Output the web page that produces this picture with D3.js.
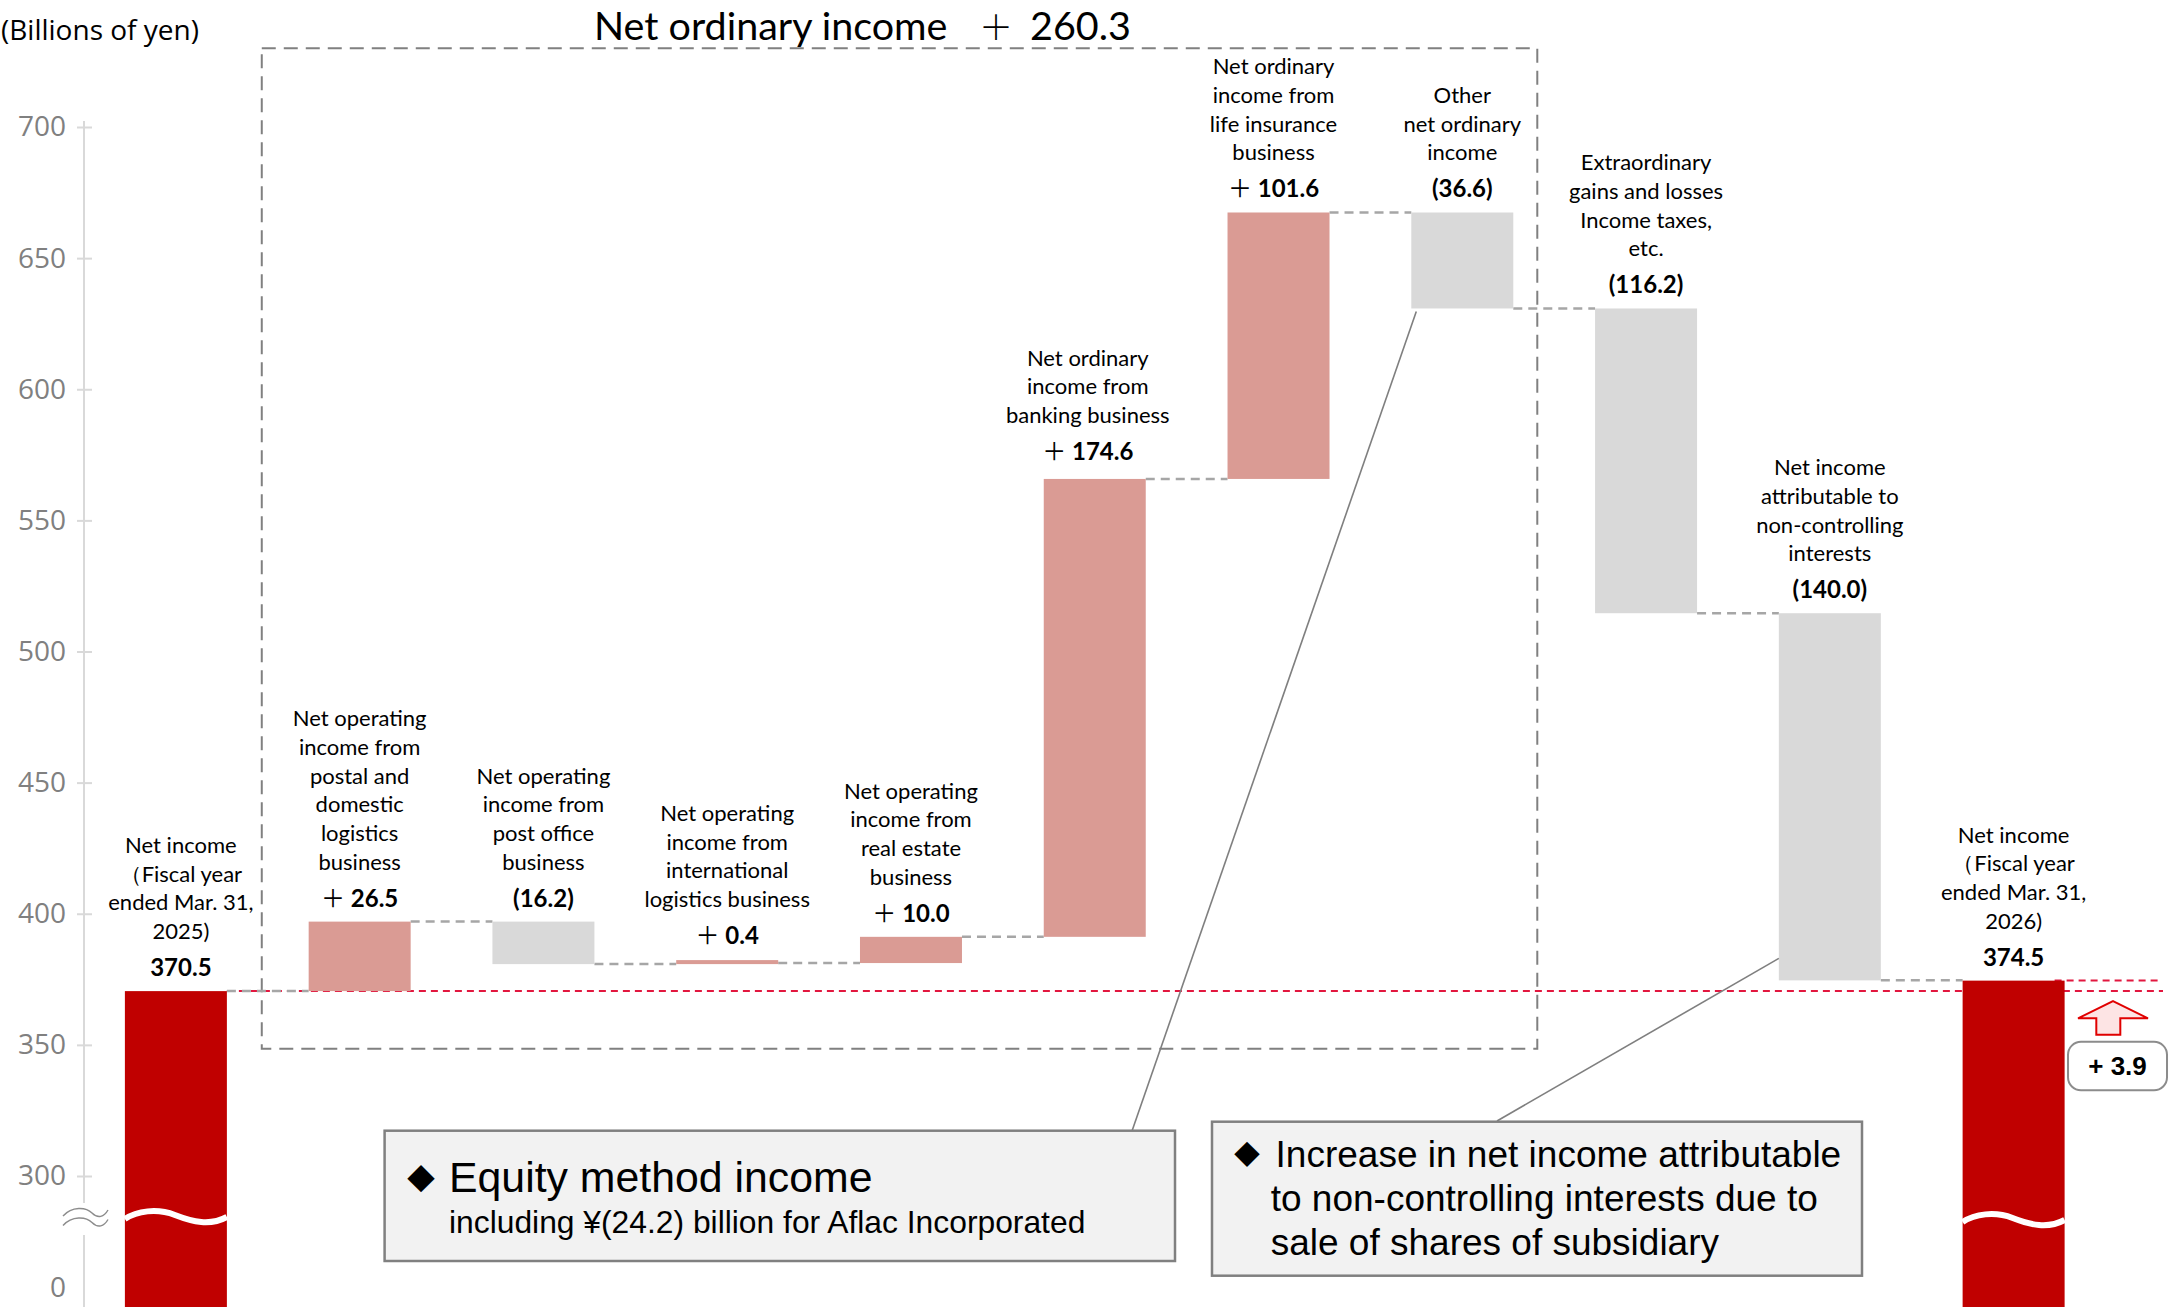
<!DOCTYPE html>
<html>
<head>
<meta charset="utf-8">
<script src="https://cdn.jsdelivr.net/npm/d3@7"></script>
<style>
  html, body { margin: 0; padding: 0; background: #fff; }
  svg { display: block; }
</style>
</head>
<body>
<script>
// ---- Data -------------------------------------------------------------
const categories = [
  ["Net income", "（Fiscal year", "ended Mar. 31,", "2025)"],
  ["Net operating", "income from", "postal and", "domestic", "logistics", "business"],
  ["Net operating", "income from", "post office", "business"],
  ["Net operating", "income from", "international", "logistics business"],
  ["Net operating", "income from", "real estate", "business"],
  ["Net ordinary", "income from", "banking business"],
  ["Net ordinary", "income from", "life insurance", "business"],
  ["Other", "net ordinary", "income"],
  ["Extraordinary", "gains and losses", "Income taxes,", "etc."],
  ["Net income", "attributable to", "non-controlling", "interests"],
  ["Net income", "（Fiscal year", "ended Mar. 31,", "2026)"]
];
const values = [370.5, 26.5, -16.2, 0.4, 10.0, 174.6, 101.6, -36.6, -116.2, -140.0, 374.5];
const kinds = ["total", "delta", "delta", "delta", "delta", "delta", "delta", "delta", "delta", "delta", "total"];
const yTicks = [300, 350, 400, 450, 500, 550, 600, 650, 700];
const breakTick = 0;
const ordinaryIncomeChange = 260.3;
const netIncomeChange = 3.9;
const unitLabel = "(Billions of yen)";
const noteEquity = ["Equity method income", "including ¥(24.2) billion for Aflac Incorporated"];
const noteMinority = ["Increase in net income attributable", "to non-controlling interests due to", "sale of shares of subsidiary"];

// ---- Layout -----------------------------------------------------------
const W = 2170, H = 1307;
const C = {
  total: "#c00000",
  up: "#da9b94",
  down: "#d9d9d9",
  connector: "#a6a6a6",
  ref: "#e2173f",
  axis: "#d9d9d9",
  tickText: "#808080",
  frame: "#808080"
};
const labelFont = "Lato, 'Noto Sans', sans-serif";
const cjkPlus = "'Noto Sans CJK JP', 'Noto Sans', sans-serif";
const boxFont = "'Liberation Sans', Arial, sans-serif";
// small horizontal / vertical nudges for a few label stacks
const labelNudge = { 0: [5, 0], 5: [-7, -4], 6: [-5, 0] };

const svg = d3.select("body").append("svg").attr("width", W).attr("height", H);

const x = d3.scaleBand().domain(d3.range(categories.length))
  .range([84, 2105.5]).paddingInner(0.445).paddingOuter(0.2225);
const bw = x.bandwidth();
const y = d3.scaleLinear().domain([300, 700]).range([1176, 127]);
const yZero = 1287;          // position of the broken-axis zero
const breakY = 1217;

// running totals for the waterfall
let run = 0;
const bars = values.map((v, i) => {
  if (kinds[i] === "total") { run = v; return { i, v, start: 0, end: v, kind: "total" }; }
  const s = run; run += v;
  return { i, v, start: s, end: run, kind: v >= 0 ? "up" : "down" };
});

// ---- Y axis (with break) ---------------------------------------------
const tickFont = "'Open Sans', sans-serif";
const axisG = svg.append("g").attr("transform", "translate(84,0)");
axisG.call(d3.axisLeft(y).tickValues(yTicks).tickSize(7).tickPadding(11).tickFormat(d3.format("d")))
  .call(g => g.select(".domain").remove())
  .call(g => g.selectAll(".tick line").attr("x1", 8).attr("x2", -7).attr("stroke", C.axis).attr("stroke-width", 2))
  .call(g => g.selectAll(".tick text").attr("fill", C.tickText).attr("font-size", 28).attr("font-family", tickFont));
axisG.append("line").attr("x1", 0).attr("x2", 0).attr("y1", y(700) - 6).attr("y2", 1203)
  .attr("stroke", C.axis).attr("stroke-width", 2);
axisG.append("line").attr("x1", 0).attr("x2", 0).attr("y1", 1235).attr("y2", H)
  .attr("stroke", C.axis).attr("stroke-width", 2);
axisG.append("text").attr("x", -18).attr("y", yZero).attr("dy", "0.36em").attr("text-anchor", "end")
  .attr("fill", C.tickText).attr("font-size", 28).attr("font-family", tickFont).text(breakTick);
// "≈" break marks on the axis
[0, 9.5].forEach(off => {
  const b = breakY - 4 + off;
  svg.append("path")
    .attr("d", `M63,${b + 3} C72,${b - 7} 86,${b - 6} 92,${b} S104,${b + 4} 108,${b - 3}`)
    .attr("fill", "none").attr("stroke", "#8c8c8c").attr("stroke-width", 1.4);
});

// unit label
svg.append("text").attr("x", 1).attr("y", 40).attr("font-family", tickFont).attr("font-size", 28)
  .attr("fill", "#000").text(unitLabel);

// ---- Net ordinary income frame ---------------------------------------
const frameL = (x(0) + bw + x(1)) / 2 - 6;
const frameR = x(7) + bw + 24;
svg.append("rect").attr("x", frameL).attr("y", y(730)).attr("width", frameR - frameL)
  .attr("height", y(348.5) - y(730)).attr("fill", "none").attr("stroke", C.frame)
  .attr("stroke-width", 2).attr("stroke-dasharray", "14 8");
const title = svg.append("text").attr("y", 40).attr("font-family", labelFont).attr("font-size", 39.5).attr("fill", "#000");
title.append("tspan").attr("x", 594).text("Net ordinary income");
title.append("tspan").attr("x", 979).attr("font-family", cjkPlus).attr("font-size", 34).attr("font-weight", 300).text("＋");
title.append("tspan").attr("x", 1030).text(d3.format(".1f")(ordinaryIncomeChange));

// ---- Reference lines (prior & current year net income) ---------------
svg.append("line").attr("x1", x(0) + bw).attr("x2", 2163).attr("y1", y(values[0])).attr("y2", y(values[0]))
  .attr("stroke", C.ref).attr("stroke-width", 2).attr("stroke-dasharray", "7 5");
svg.append("line").attr("x1", x(10) + bw - 10).attr("x2", 2160)
  .attr("y1", y(values[10])).attr("y2", y(values[10]))
  .attr("stroke", C.ref).attr("stroke-width", 2).attr("stroke-dasharray", "7 5");

// ---- Connectors -------------------------------------------------------
svg.append("g").selectAll("line").data(bars.slice(0, -1)).join("line")
  .attr("x1", d => x(d.i) + bw).attr("x2", d => x(d.i + 1))
  .attr("y1", d => y(d.end)).attr("y2", d => y(d.end))
  .attr("stroke", C.connector).attr("stroke-width", 2.5).attr("stroke-dasharray", "9 6");

// ---- Bars -------------------------------------------------------------
const minH = 4;
svg.append("g").selectAll("rect").data(bars).join("rect")
  .attr("x", d => x(d.i)).attr("width", bw)
  .attr("y", d => {
    if (d.kind === "total") return y(d.end);
    const top = y(Math.max(d.start, d.end)), bot = y(Math.min(d.start, d.end));
    return bot - top < minH ? bot - minH : top;
  })
  .attr("height", d => {
    if (d.kind === "total") return H - y(d.end) + 2;
    const h = Math.abs(y(d.start) - y(d.end));
    return Math.max(h, minH);
  })
  .attr("fill", d => C[d.kind]);

// wavy white break through the total bars
bars.filter(d => d.kind === "total").forEach(d => {
  const x0 = x(d.i), x1 = x0 + bw, b = d.i === 0 ? breakY : breakY + 3;
  svg.append("path")
    .attr("d", `M${x0},${b + 2} C${x0 + 12},${b - 6} ${x0 + 32},${b - 9} ${x0 + 50},${b - 2} S${x0 + 85},${b + 9} ${x1},${b}`)
    .attr("fill", "none").attr("stroke", "#fff").attr("stroke-width", 6);
});

// ---- Labels -----------------------------------------------------------
const fmt = d3.format(".1f");
bars.forEach(d => {
  const [nx, ny] = labelNudge[d.i] || [0, 0];
  const cx = x(d.i) + bw / 2 + nx;
  const top = d.kind === "total" ? y(d.end) : y(Math.max(d.start, d.end)) - (Math.abs(y(d.start) - y(d.end)) < minH ? minH : 0);
  const vb = top - 15 + ny;
  const t = svg.append("text").attr("x", cx).attr("y", vb).attr("text-anchor", "middle")
    .attr("font-family", labelFont).attr("font-weight", 700).attr("font-size", 24).attr("fill", "#000");
  if (d.kind === "total") t.text(fmt(d.v));
  else if (d.v >= 0) {
    t.append("tspan").attr("font-family", cjkPlus).attr("font-weight", 400).attr("font-size", 24).text("＋");
    t.append("tspan").text(" " + fmt(d.v));
  } else t.text("(" + fmt(-d.v) + ")");

  const lines = categories[d.i];
  const lastB = vb - 37;
  svg.append("g").selectAll("text").data(lines).join("text")
    .attr("x", cx).attr("y", (l, k) => lastB - (lines.length - 1 - k) * 28.7)
    .attr("text-anchor", "middle").attr("font-family", labelFont).attr("font-size", 22)
    .attr("fill", "#000").text(l => l);
});

// ---- Change versus prior year (arrow + badge) -------------------------
const ax = x(10) + bw + 48.4;
const tipY = y(values[0]) + 10;
svg.append("polygon")
  .attr("points", [[ax, tipY], [ax + 35, tipY + 17.2], [ax + 7.3, tipY + 17.2], [ax + 7.3, tipY + 33.7],
                   [ax - 16.7, tipY + 33.7], [ax - 16.7, tipY + 17.2], [ax - 35, tipY + 17.2]].map(p => p.join(",")).join(" "))
  .attr("fill", "#fde4e4").attr("stroke", "#e00000").attr("stroke-width", 2);
svg.append("rect").attr("x", ax - 45).attr("y", tipY + 40.7).attr("width", 99).attr("height", 48.5)
  .attr("rx", 13).attr("fill", "#fff").attr("stroke", "#8c8c8c").attr("stroke-width", 2);
svg.append("text").attr("x", ax + 4.5).attr("y", tipY + 74).attr("text-anchor", "middle")
  .attr("font-family", boxFont).attr("font-weight", 700).attr("font-size", 26).attr("fill", "#000")
  .text("+ " + fmt(netIncomeChange));

// ---- Notes ------------------------------------------------------------
// leader lines
const other = bars[7], minority = bars[9];
svg.append("line").attr("x1", 1132).attr("y1", 1131).attr("x2", x(7) + 5).attr("y2", y(other.end) + 3)
  .attr("stroke", "#7f7f7f").attr("stroke-width", 1.6);
svg.append("line").attr("x1", 1497).attr("y1", 1121).attr("x2", x(9)).attr("y2", y(minority.end) - 22)
  .attr("stroke", "#7f7f7f").attr("stroke-width", 1.6);

// equity method box
svg.append("rect").attr("x", 384.6).attr("y", 1130.7).attr("width", 790.4).attr("height", 130.3)
  .attr("fill", "#f2f2f2").attr("stroke", "#808080").attr("stroke-width", 2.5);
svg.append("text").attr("x", 407).attr("y", 1190).attr("font-family", cjkPlus).attr("font-size", 28).text("◆");
svg.append("text").attr("x", 449).attr("y", 1191.7).attr("font-family", boxFont).attr("font-size", 42.8).text(noteEquity[0]);
svg.append("text").attr("x", 449).attr("y", 1233).attr("font-family", boxFont).attr("font-size", 31.8).text(noteEquity[1]);

// minority interests box
svg.append("rect").attr("x", 1212).attr("y", 1121.7).attr("width", 650).attr("height", 154)
  .attr("fill", "#f2f2f2").attr("stroke", "#808080").attr("stroke-width", 2.5);
svg.append("text").attr("x", 1234).attr("y", 1164).attr("font-family", cjkPlus).attr("font-size", 26).text("◆");
svg.append("g").selectAll("text").data(noteMinority).join("text")
  .attr("x", (d, k) => k === 0 ? 1275.6 : 1270.7).attr("y", (d, k) => 1166.7 + k * 44.2)
  .attr("font-family", boxFont).attr("font-size", 37).attr("fill", "#000").text(d => d);
</script>
</body>
</html>
